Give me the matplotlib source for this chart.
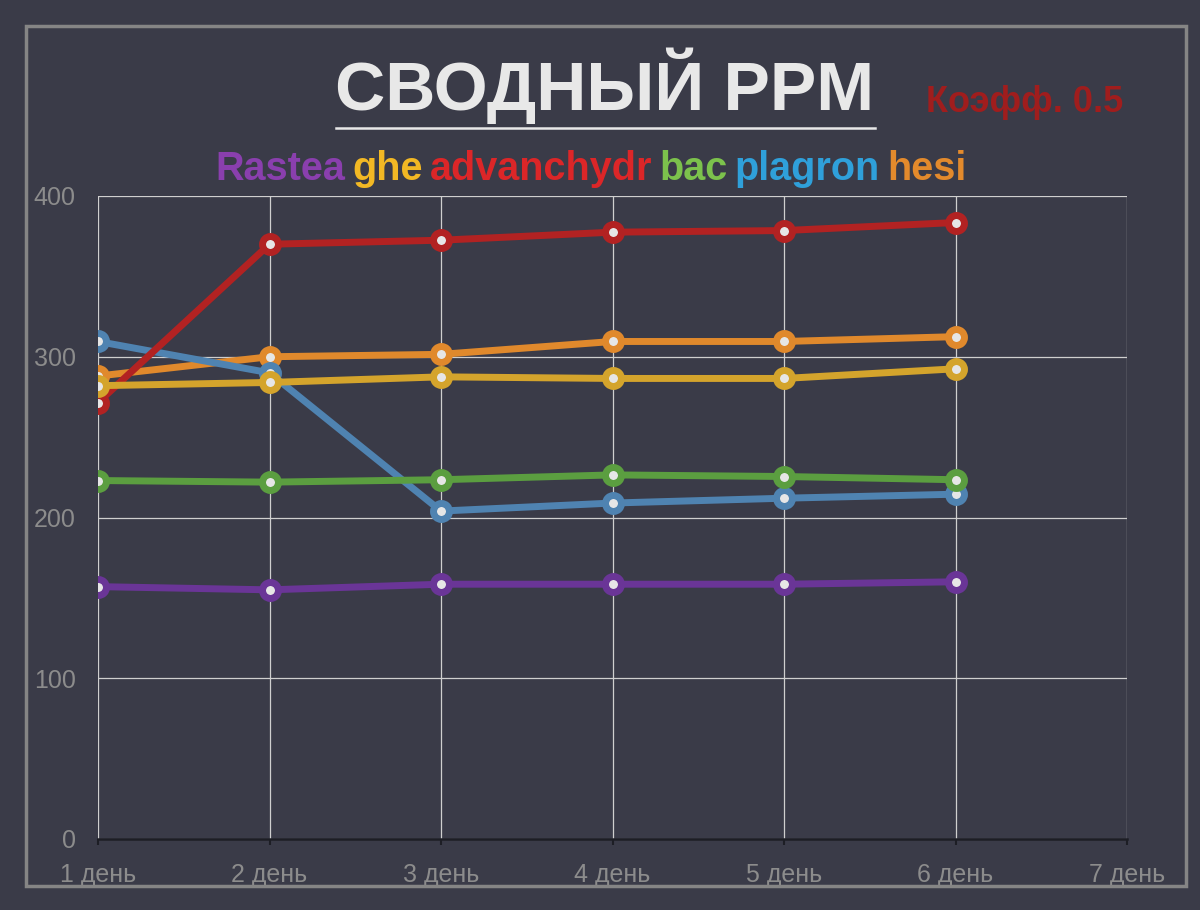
import numpy as np
import matplotlib.pyplot as plt
from matplotlib.patches import Rectangle
from matplotlib.lines import Line2D

# dane
dni = ['1 день', '2 день', '3 день', '4 день', '5 день', '6 день', '7 день']
serie = ['Rastea', 'ghe', 'advanchydr', 'bac', 'plagron', 'hesi']
rastea = [157, 155, 158.5, 158.5, 158.5, 160]
ghe = [282, 284, 287.5, 286.5, 286.5, 292.5]
advanchydr = [271.5, 370, 372.5, 377.5, 378.5, 383.5]
bac = [223, 222, 223.5, 226.5, 225.5, 223.5]
plagron = [309.5, 290, 204, 209, 212, 214.5]
hesi = [288, 300, 301.5, 309.5, 309.5, 312.5]
y_ticki = [0, 100, 200, 300, 400]

kolory_linii = ['#6a3597', '#d4a42c', '#b22222', '#5b9e40', '#4f83b1', '#e0892c']
kolory_napisow = ['#8a3fae', '#f2b824', '#dc2628', '#7cc24c', '#2fa0da', '#e38a2c']
tlo = '#3a3b48'
szary = '#8c8c8c'
czcionka = ['Liberation Sans', 'DejaVu Sans']

fig = plt.figure(figsize=(12, 9.1), dpi=100)
fig.patch.set_facecolor(tlo)

# ramka dookoła
fig.patches.append(Rectangle((26 / 1200, 1 - 886 / 910), 1160 / 1200, 860 / 910,
                             transform=fig.transFigure, fill=False,
                             edgecolor='#858585', linewidth=2.5))

ax = fig.add_axes([98 / 1200, 71 / 910, 1029 / 1200, 643 / 910])
ax.set_facecolor('none')
ax.set_xlim(1, 7)
ax.set_ylim(0, 400)

x = np.arange(1, len(dni) + 1)
dane = [rastea, ghe, advanchydr, bac, plagron, hesi]
for i, (y, kol) in enumerate(zip(dane, kolory_linii)):
    z = 10 - i  # pierwsza seria na wierzchu
    ax.plot(x[:len(y)], y, color=kol, linewidth=5, solid_capstyle='round',
            marker='o', markersize=11.5, markeredgewidth=5,
            markeredgecolor=kol, markerfacecolor='#e6e6e6', zorder=z)

ax.set_xticks(x)
ax.set_xticklabels(dni)
ax.set_yticks(y_ticki)
ax.grid(True, color='#cfcfcf', linewidth=0.9)
ax.set_axisbelow(True)
for s in ['top', 'right', 'left']:
    ax.spines[s].set_visible(False)
ax.spines['bottom'].set_color('#1d1e25')
ax.spines['bottom'].set_linewidth(1.8)
ax.spines['bottom'].set_zorder(2)
ax.tick_params(axis='x', colors='#1d1e25', length=4, width=1.5, pad=13,
               labelcolor=szary, labelsize=18)
ax.tick_params(axis='y', length=0, pad=16, labelcolor=szary, labelsize=18)
for t in ax.get_xticklabels() + ax.get_yticklabels():
    t.set_family(czcionka)

# tytuł
fig.text(605 / 1200, 1 - 86 / 910, 'СВОДНЫЙ PPM', ha='center', va='center',
         fontsize=50, fontweight='bold', color='#e8e8e8', family=czcionka)
fig.add_artist(Line2D([336 / 1200, 875 / 1200], [1 - 128 / 910, 1 - 128 / 910],
                      transform=fig.transFigure, color='#e8e8e8', linewidth=1.8))
fig.text(1025 / 1200, 1 - 103 / 910, 'Коэфф. 0.5', ha='center', va='center',
         fontsize=26, fontweight='bold', color='#a01d1d', family=czcionka)

# kolorowe nazwy serii
napisy = []
for s, kol in zip(serie, kolory_napisow):
    napisy.append(fig.text(0, 1 - 169 / 910, s, ha='left', va='center',
                           fontsize=28.5, fontweight='bold', color=kol,
                           family=czcionka))
r = fig.canvas.get_renderer()
szer = [t.get_window_extent(r).width for t in napisy]
spacja = 7
razem = sum(szer) + spacja * (len(szer) - 1)
pos = 591 - razem / 2
for t, w in zip(napisy, szer):
    t.set_x(pos / 1200)
    pos += w + spacja

fig.savefig('out.png', dpi=100, facecolor=fig.get_facecolor())
